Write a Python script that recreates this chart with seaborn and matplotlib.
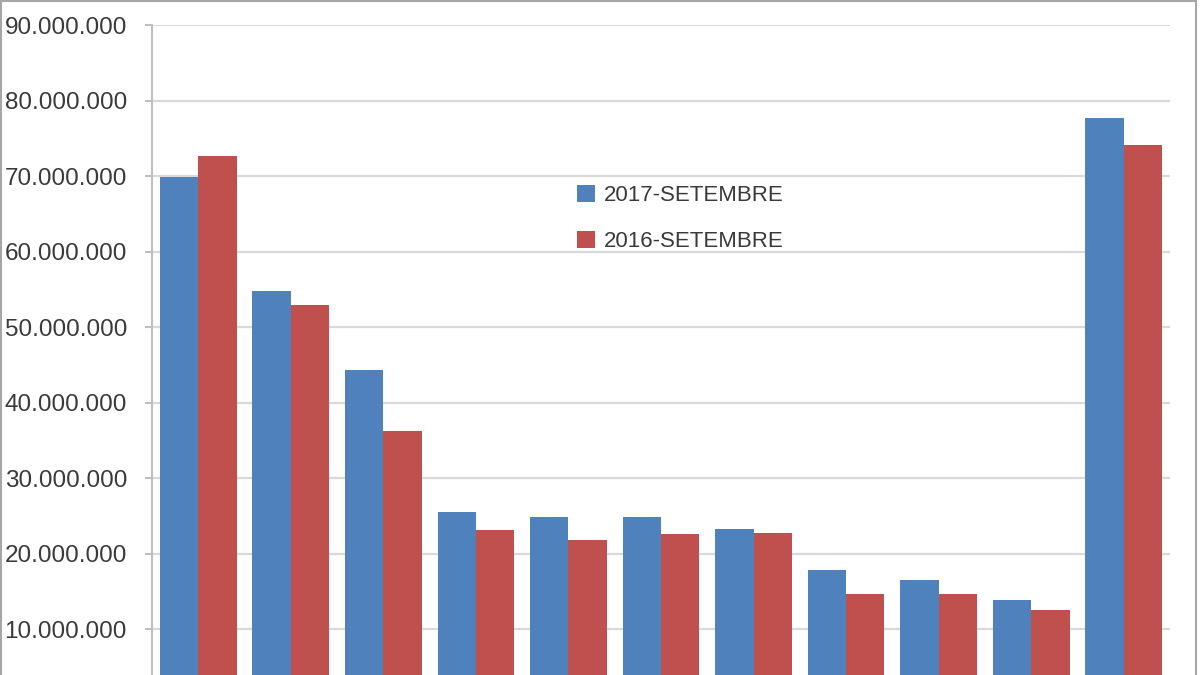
import matplotlib
matplotlib.use("Agg")
import matplotlib.pyplot as plt
import matplotlib.ticker as mticker
from matplotlib.patches import Rectangle
import seaborn as sns
import pandas as pd

# ---- data ----
categories = ["C1", "C2", "C3", "C4", "C5", "C6", "C7", "C8", "C9", "C10", "C11"]
series_names = ["2017-SETEMBRE", "2016-SETEMBRE"]
values_2017 = [69.9e6, 54.8e6, 44.3e6, 25.6e6, 24.9e6, 24.9e6, 23.3e6, 17.9e6, 16.5e6, 13.9e6, 77.7e6]
values_2016 = [72.6e6, 52.9e6, 36.3e6, 23.2e6, 21.8e6, 22.6e6, 22.8e6, 14.7e6, 14.7e6, 12.6e6, 74.1e6]
y_ticks = [10e6, 20e6, 30e6, 40e6, 50e6, 60e6, 70e6, 80e6, 90e6]
colors = ["#4F81BD", "#C0504D"]

df = pd.DataFrame({
    "cat": categories * 2,
    "serie": [series_names[0]] * len(categories) + [series_names[1]] * len(categories),
    "valor": values_2017 + values_2016,
})

sns.set_theme(style="white")
plt.rcParams["font.family"] = ["Liberation Sans", "DejaVu Sans"]

fig = plt.figure(figsize=(12, 6.75), dpi=100)
# axes extends below the figure bottom (the reference image is cropped)
ax = fig.add_axes([152 / 1200, 1 - 705 / 675, (1170 - 152) / 1200, (705 - 25) / 675])

sns.barplot(data=df, x="cat", y="valor", hue="serie", hue_order=series_names,
            order=categories, palette=colors, saturation=1, width=0.83,
            gap=0, edgecolor="none", linewidth=0, ax=ax)

ax.set_ylim(0, 90e6)
ax.set_xlim(-0.5, len(categories) - 0.5)
ax.set_yticks(y_ticks)
ax.yaxis.set_major_formatter(mticker.FuncFormatter(lambda v, p: f"{int(round(v)):,}".replace(",", ".")))
ax.grid(axis="y", color="#D9D9D9", linewidth=1.6)
ax.set_axisbelow(True)
ax.set_xlabel("")
ax.set_ylabel("")
ax.set_xticklabels([])
ax.tick_params(axis="x", length=0)
ax.tick_params(axis="y", length=5, width=1.5, color="#BFBFBF", pad=13,
               labelsize=17.5, labelcolor="#3A3A3A", left=True, direction="out")

for s in ["top", "right", "bottom"]:
    ax.spines[s].set_visible(False)
ax.spines["left"].set_color("#BFBFBF")
ax.spines["left"].set_linewidth(1.5)

handles, labels = ax.get_legend_handles_labels()
ax.legend(handles, labels, loc="upper left", bbox_to_anchor=(566 / 1200, 1 - 174 / 675),
          bbox_transform=fig.transFigure, frameon=False, fontsize=16,
          handlelength=0.8, handleheight=0.8, handletextpad=0.4,
          labelspacing=1.1, borderpad=0, labelcolor="#3A3A3A")

fig.add_artist(Rectangle((0.001, -0.1), 0.996, 1.098, transform=fig.transFigure,
                         fill=False, edgecolor="#A6A6A6", linewidth=1.5))

fig.savefig("out.png", dpi=100)
